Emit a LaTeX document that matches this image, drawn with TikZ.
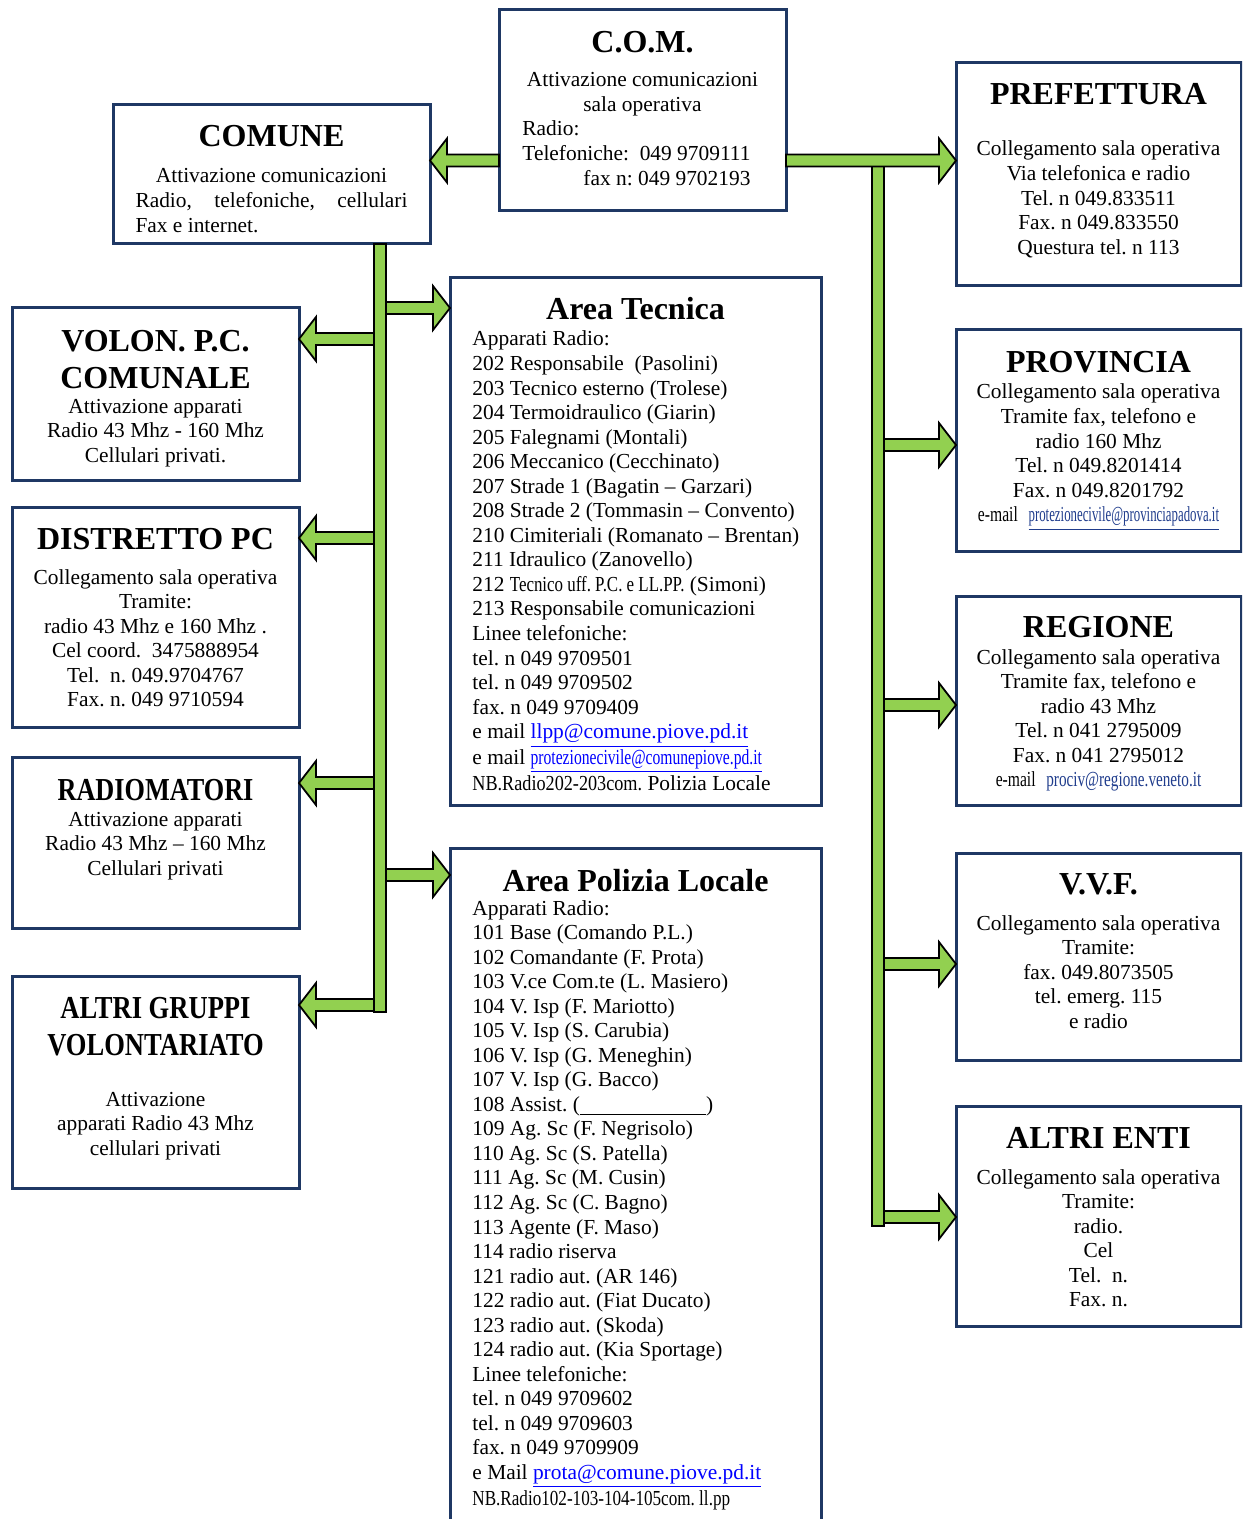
\documentclass[tikz,border=0pt]{standalone}
\usepackage{fontspec}
\setmainfont{Liberation Serif}
\usepackage{graphicx}
\usetikzlibrary{calc}

\definecolor{boxblue}{RGB}{31,56,100}
\definecolor{arrowgreen}{RGB}{146,208,80}
\definecolor{linkblue}{RGB}{0,0,255}
\definecolor{darklink}{RGB}{31,60,140}

\frenchspacing
\newcommand{\bodyfont}{\fontsize{10.7}{12.27}\selectfont}
\newcommand{\headfont}{\fontsize{16}{18.5}\selectfont\bfseries}
\newcommand{\cond}[2]{\scalebox{#1}[1]{#2}}
\newcommand{\clines}[1]{\begin{tabular}[t]{@{}c@{}}#1\end{tabular}}
\newcommand{\llines}[1]{\begin{tabular}[t]{@{}l@{}}#1\end{tabular}}
\newcommand{\flowarrow}[2]{%
  \filldraw[flow] ($(#1)+(0,-6)$) -- ($(#2)!8.5pt!(#1)+(0,-6)$)
    -- ($(#2)!8.5pt!(#1)+(0,-22)$) -- (#2)
    -- ($(#2)!8.5pt!(#1)+(0,22)$) -- ($(#2)!8.5pt!(#1)+(0,6)$)
    -- ($(#1)+(0,6)$) -- cycle;}

\begin{document}
\begin{tikzpicture}[x=0.5pt, y=-0.5pt,
  box/.style={draw=boxblue, line width=1.5pt, rectangle, inner sep=0pt, outer sep=0pt},
  head/.style={anchor=base, inner sep=0pt, font=\headfont},
  body/.style={anchor=base, inner sep=0pt, font=\bodyfont},
  flow/.style={fill=arrowgreen, draw=black, line width=0.9pt}]
\useasboundingbox (0,0) rectangle (1242,1519);
\clip (0,0) rectangle (1242,1519);

% boxes
\node[box, minimum width=143.5pt, minimum height=100.5pt] (com) at (642.5,110.5) {};
\node[box, minimum width=158.5pt, minimum height=69.5pt] (comune) at (271.5,174.5) {};
\node[box, minimum width=142.5pt, minimum height=111.5pt] (prefettura) at (1098.5,174.5) {};
\node[box, minimum width=143.5pt, minimum height=86pt] (volon) at (155.5,394) {};
\node[box, minimum width=185.5pt, minimum height=263.5pt] (tecnica) at (635.5,541.5) {};
\node[box, minimum width=142.5pt, minimum height=110.5pt] (provincia) at (1098.5,440.5) {};
\node[box, minimum width=143.5pt, minimum height=110pt] (distretto) at (155.5,617) {};
\node[box, minimum width=142.5pt, minimum height=104.5pt] (regione) at (1098.5,700.5) {};
\node[box, minimum width=143.5pt, minimum height=85.5pt] (radio) at (155.5,842.5) {};
\node[box, minimum width=185.5pt, minimum height=341pt] (polizia) at (635.5,1189) {};
\node[box, minimum width=142.5pt, minimum height=103.5pt] (vvf) at (1098.5,956.5) {};
\node[box, minimum width=143.5pt, minimum height=106pt] (altrig) at (155.5,1082) {};
\node[box, minimum width=142.5pt, minimum height=110pt] (altrie) at (1098.5,1216) {};

% C.O.M.
\node[head] (com-head) at ($(com.north)+(0,43)$) {C.O.M.};
\node[body] (com-body) at ($(com.north)+(0,77)$) {\clines{Attivazione comunicazioni\\ sala operativa}};
\node[body, anchor=base west] (com-tel) at ($(com.north west)+(23,126)$)
  {\begin{tabular}[t]{@{}r@{}}\multicolumn{1}{@{}l@{}}{Radio:}\\ Telefoniche:\ \ 049 9709111\\ fax n: 049 9702193\end{tabular}};

% COMUNE
\node[head] (comune-head) at ($(comune.north)+(0,42)$) {COMUNE};
\node[body] (comune-body) at ($(comune.north)+(0,78)$)
  {\llines{\makebox[136pt]{Attivazione comunicazioni}\\
   \makebox[136pt][s]{Radio,\hfill telefoniche,\hfill cellulari}\\ Fax e internet.}};

% PREFETTURA
\node[head] (prefettura-head) at ($(prefettura.north)+(0,42)$) {PREFETTURA};
\node[body] (prefettura-body) at ($(prefettura.north)+(0,93)$)
  {\clines{Collegamento sala operativa\\ Via telefonica e radio\\ Tel. n 049.833511\\ Fax. n 049.833550\\ Questura tel. n 113}};

% VOLON. P.C. COMUNALE
\node[head] (volon-head) at ($(volon.north)+(0,43)$) {\clines{VOLON. P.C.\\ COMUNALE}};
\node[body] (volon-body) at ($(volon.north)+(0,105)$)
  {\clines{Attivazione apparati\\ Radio 43 Mhz - 160 Mhz\\ Cellulari privati.}};

% Area Tecnica
\node[head] (tecnica-head) at ($(tecnica.north)+(0,42)$) {Area Tecnica};
\node[body, anchor=base west] (tecnica-body) at ($(tecnica.north west)+(22,68)$)
  {\llines{Apparati Radio:\\
   202 Responsabile\ \ (Pasolini)\\
   203 Tecnico esterno (Trolese)\\
   204 Termoidraulico (Giarin)\\
   205 Falegnami (Montali)\\
   206 Meccanico (Cecchinato)\\
   207 Strade 1 (Bagatin – Garzari)\\
   208 Strade 2 (Tommasin – Convento)\\
   210 Cimiteriali (Romanato – Brentan)\\
   211 Idraulico (Zanovello)\\
   212 \cond{0.79}{Tecnico uff. P.C. e LL.PP.} (Simoni)\\
   213 Responsabile comunicazioni\\
   Linee telefoniche:\\
   tel. n 049 9709501\\
   tel. n 049 9709502\\
   fax. n 049 9709409\\
   e mail \textcolor{linkblue}{\underline{llpp@comune.piove.pd.it}}\\
   e mail \textcolor{linkblue}{\underline{\cond{0.73}{protezionecivile@comunepiove.pd.it}}}\\
   \cond{0.85}{NB.Radio202-203com.} Polizia Locale}};

% PROVINCIA
\node[head] (provincia-head) at ($(provincia.north)+(0,42)$) {PROVINCIA};
\node[body] (provincia-body) at ($(provincia.north)+(0,69)$)
  {\clines{Collegamento sala operativa\\ Tramite fax, telefono e\\ radio 160 Mhz\\ Tel. n 049.8201414\\ Fax. n 049.8201792\\
   \cond{0.73}{e-mail}\ \ \textcolor{darklink}{\underline{\cond{0.6}{protezionecivile@provinciapadova.it}}}}};

% DISTRETTO PC
\node[head] (distretto-head) at ($(distretto.north)+(0,42)$) {DISTRETTO PC};
\node[body] (distretto-body) at ($(distretto.north)+(0,77)$)
  {\clines{Collegamento sala operativa\\ Tramite:\\ radio 43 Mhz e 160 Mhz .\\ Cel coord.\ \ 3475888954\\ Tel.\ \ n. 049.9704767\\ Fax. n. 049 9710594}};

% REGIONE
\node[head] (regione-head) at ($(regione.north)+(0,41)$) {REGIONE};
\node[body] (regione-body) at ($(regione.north)+(0,68)$)
  {\clines{Collegamento sala operativa\\ Tramite fax, telefono e\\ radio 43 Mhz\\ Tel. n 041 2795009\\ Fax. n 041 2795012\\
   \cond{0.73}{e-mail}\ \ \textcolor{darklink}{\cond{0.71}{prociv@regione.veneto.it}}}};

% RADIOMATORI
\node[head] (radio-head) at ($(radio.north)+(0,43)$) {\cond{0.82}{RADIOMATORI}};
\node[body] (radio-body) at ($(radio.north)+(0,69)$)
  {\clines{Attivazione apparati\\ Radio 43 Mhz – 160 Mhz\\ Cellulari privati}};

% Area Polizia Locale
\node[head] (polizia-head) at ($(polizia.north)+(0,43)$) {Area Polizia Locale};
\node[body, anchor=base west] (polizia-body) at ($(polizia.north west)+(22,67)$)
  {\llines{Apparati Radio:\\
   101 Base (Comando P.L.)\\
   102 Comandante (F. Prota)\\
   103 V.ce Com.te (L. Masiero)\\
   104 V. Isp (F. Mariotto)\\
   105 V. Isp (S. Carubia)\\
   106 V. Isp (G. Meneghin)\\
   107 V. Isp (G. Bacco)\\
   108 Assist. (\rule[-1.7pt]{63pt}{0.5pt})\\
   109 Ag. Sc (F. Negrisolo)\\
   110 Ag. Sc (S. Patella)\\
   111 Ag. Sc (M. Cusin)\\
   112 Ag. Sc (C. Bagno)\\
   113 Agente (F. Maso)\\
   114 radio riserva\\
   121 radio aut. (AR 146)\\
   122 radio aut. (Fiat Ducato)\\
   123 radio aut. (Skoda)\\
   124 radio aut. (Kia Sportage)\\
   Linee telefoniche:\\
   tel. n 049 9709602\\
   tel. n 049 9709603\\
   fax. n 049 9709909\\
   e Mail \textcolor{linkblue}{\underline{prota@comune.piove.pd.it}}\\
   \cond{0.8}{NB.Radio102-103-104-105com. ll.pp}}};

% V.V.F.
\node[head] (vvf-head) at ($(vvf.north)+(0,41)$) {V.V.F.};
\node[body] (vvf-body) at ($(vvf.north)+(0,77)$)
  {\clines{Collegamento sala operativa\\ Tramite:\\ fax. 049.8073505\\ tel. emerg. 115\\ e radio}};

% ALTRI GRUPPI VOLONTARIATO
\node[head] (altrig-head) at ($(altrig.north)+(0,42)$) {\clines{\cond{0.83}{ALTRI GRUPPI}\\ \cond{0.83}{VOLONTARIATO}}};
\node[body] (altrig-body) at ($(altrig.north)+(0,130)$)
  {\clines{Attivazione\\ apparati Radio 43 Mhz\\ cellulari privati}};

% ALTRI ENTI
\node[head] (altrie-head) at ($(altrie.north)+(0,42)$) {ALTRI ENTI};
\node[body] (altrie-body) at ($(altrie.north)+(0,78)$)
  {\clines{Collegamento sala operativa\\ Tramite:\\ radio.\\ Cel\\ Tel.\ \ n.\\ Fax. n.}};

% left bar and its branches
\foreach \dest/\yy in {volon/339, distretto/538, radio/783, altrig/1005}{
  \coordinate (j) at (380,\yy);
  \flowarrow{j}{\dest.east |- j}
}
\foreach \dest/\yy in {tecnica/308, polizia/875}{
  \coordinate (j) at (380,\yy);
  \flowarrow{j}{\dest.west |- j}
}
\filldraw[flow] (374,244) rectangle (386,1012);

% right bar and its branches
\foreach \dest/\yy in {provincia/445, regione/705, vvf/964, altrie/1217}{
  \coordinate (j) at (878,\yy);
  \flowarrow{j}{\dest.west |- j}
}
\filldraw[flow] (872,156) rectangle (884,1226);

% arrows out of C.O.M.
\coordinate (comin) at ($(com.west)+(0,50)$);
\coordinate (comout) at ($(com.east)+(0,50)$);
\flowarrow{comin}{comune.east |- comin}
\flowarrow{comout}{prefettura.west |- comout}
\end{tikzpicture}
\end{document}
